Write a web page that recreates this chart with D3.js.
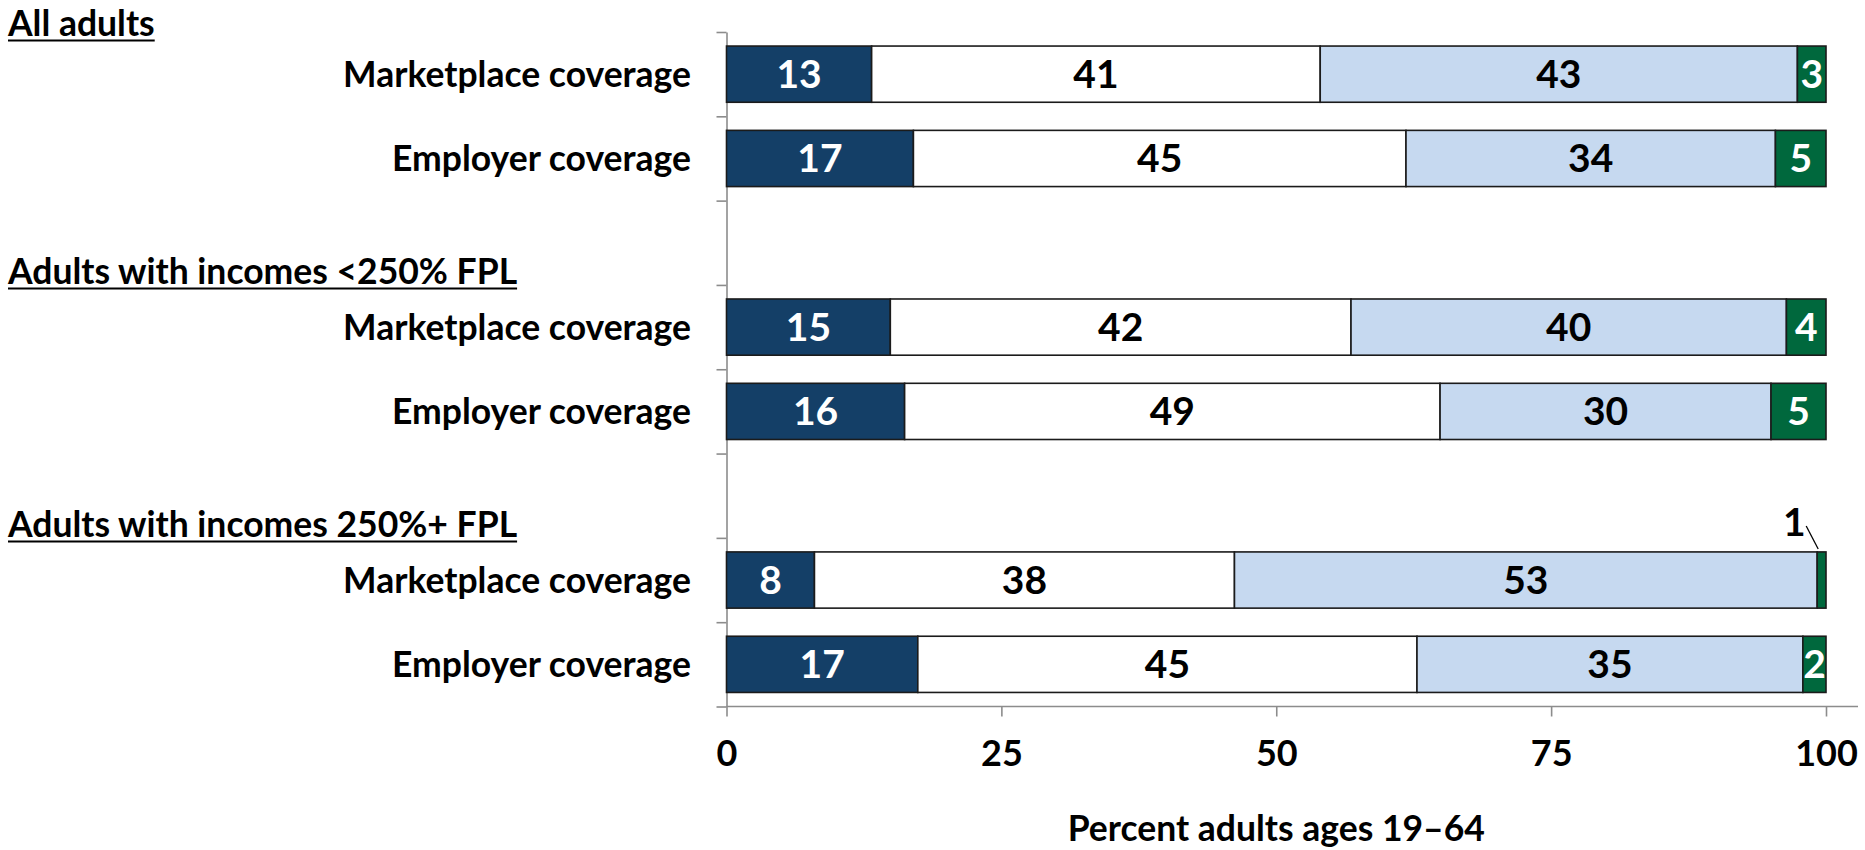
<!DOCTYPE html>
<html>
<head>
<meta charset="utf-8">
<script src="https://cdn.jsdelivr.net/npm/d3@7"></script>
<style>
  html, body { margin: 0; padding: 0; background: #ffffff; }
  svg { display: block; font-family: Lato, "Open Sans", sans-serif; font-weight: 700; }
</style>
</head>
<body>
<svg id="chart" width="1865" height="850"></svg>
<script>
// Population groups (each gets a heading) and the two coverage rows inside each group
const groups = ["All adults", "Adults with incomes <250% FPL", "Adults with incomes 250%+ FPL"];
const rowLabels = ["Marketplace coverage", "Employer coverage"];

// Stacked segment shares, percent, one entry per bar (top to bottom)
const darkBlueValues  = [13.2, 17.0, 14.9, 16.2, 8.0, 17.4];
const whiteValues     = [40.8, 44.8, 41.9, 48.7, 38.2, 45.4];
const lightBlueValues = [43.4, 33.6, 39.6, 30.1, 53.0, 35.1];
const greenValues     = [2.6, 4.6, 3.6, 5.0, 0.8, 2.1];

const xTicks = [0, 25, 50, 75, 100];
const xTitle = "Percent adults ages 19–64";

const series = [
  { key: "darkBlue",  values: darkBlueValues,  fill: "#143f67", text: "#ffffff" },
  { key: "white",     values: whiteValues,     fill: "#ffffff", text: "#000000" },
  { key: "lightBlue", values: lightBlueValues, fill: "#c6d9f0", text: "#000000" },
  { key: "green",     values: greenValues,     fill: "#00683d", text: "#ffffff" }
];

const svg = d3.select("#chart");
const labelSize = 35.5;

// Slots down the chart: two bars per group, with an empty slot between groups
const slots = [];
const bars = [];
groups.forEach((g, gi) => {
  rowLabels.forEach((r) => {
    const id = g + "|" + r;
    slots.push(id);
    bars.push({ id, group: g, label: r });
  });
  if (gi < groups.length - 1) slots.push("gap" + gi);
});

const x = d3.scaleLinear().domain([0, 100]).range([726.5, 1826]);
const y = d3.scaleBand().domain(slots).range([32, 706.5]).paddingInner(1 / 3).paddingOuter(1 / 6);
const slotEdge = d3.scaleLinear().domain([0, slots.length]).range([32, 706.5]);

// Stack the segments for every bar
const rows = bars.map((b, i) => {
  let acc = 0;
  const segs = series.map((s) => {
    const v = s.values[i];
    const seg = { key: s.key, value: v, x0: acc, x1: acc + v, fill: s.fill, text: s.text };
    acc += v;
    return seg;
  });
  return { ...b, segs };
});

// Category axis: ticks sit on slot boundaries
const yAxis = svg.append("g")
  .attr("transform", `translate(${x(0)},0)`)
  .call(d3.axisLeft(slotEdge).ticks(slots.length).tickSize(10).tickSizeOuter(0).tickFormat(""));
yAxis.select(".domain").attr("stroke", "#8c8c8c").attr("stroke-width", 1.6);
yAxis.selectAll(".tick line").attr("stroke", "#8c8c8c").attr("stroke-width", 1.6);

// Value axis
const xAxis = svg.append("g")
  .attr("transform", `translate(0,${slotEdge(slots.length)})`)
  .call(d3.axisBottom(x).tickValues(xTicks).tickSize(10).tickSizeOuter(0).tickPadding(24));
xAxis.select(".domain")
  .attr("d", `M${x(0)},0H1858`)
  .attr("stroke", "#8c8c8c").attr("stroke-width", 1.6);
xAxis.selectAll(".tick line").attr("stroke", "#8c8c8c").attr("stroke-width", 1.6);
xAxis.selectAll(".tick text")
  .attr("fill", "#000").attr("font-size", 36).attr("font-weight", 700)
  .attr("font-family", "Lato, sans-serif");

// Bars
const barG = svg.append("g").selectAll("g.bar").data(rows).join("g")
  .attr("class", "bar")
  .attr("transform", (d) => `translate(0,${y(d.id)})`);

barG.selectAll("rect").data((d) => d.segs).join("rect")
  .attr("x", (s) => x(s.x0))
  .attr("y", 0)
  .attr("width", (s) => x(s.x1) - x(s.x0))
  .attr("height", y.bandwidth())
  .attr("fill", (s) => s.fill)
  .attr("stroke", "#1b1b1b")
  .attr("stroke-width", 1.6);

// Value labels: inside the segment, or above it with a leader when too narrow
const fmt = d3.format(".0f");
const bw = y.bandwidth();
barG.each(function (d) {
  const g = d3.select(this);
  d.segs.forEach((s) => {
    const w = x(s.x1) - x(s.x0);
    if (w >= 15) {
      g.append("text")
        .attr("x", (x(s.x0) + x(s.x1)) / 2)
        .attr("y", bw / 2 + 14)
        .attr("text-anchor", "middle")
        .attr("font-size", 39)
        .attr("fill", s.text)
        .text(fmt(s.value));
    } else {
      const sx = x(s.x0);
      g.append("line")
        .attr("x1", sx - 11).attr("y1", -26)
        .attr("x2", sx + 1).attr("y2", -3)
        .attr("stroke", "#000").attr("stroke-width", 1.3);
      g.append("text")
        .attr("x", sx - 23)
        .attr("y", -16)
        .attr("text-anchor", "middle")
        .attr("font-size", 39)
        .attr("fill", "#000")
        .text(fmt(s.value));
    }
  });
});

// Row labels
svg.append("g").selectAll("text").data(rows).join("text")
  .attr("x", 691)
  .attr("y", (d) => y(d.id) + bw / 2 + labelSize * 0.36)
  .attr("text-anchor", "end")
  .attr("font-size", labelSize)
  .attr("fill", "#000")
  .text((d) => d.label);

// Group headings, underlined, sitting just above each group's first slot
// (the top one is kept clear of the page edge)
const headG = svg.append("g");
groups.forEach((g) => {
  const firstIdx = slots.indexOf(g + "|" + rowLabels[0]);
  const base = Math.max(slotEdge(firstIdx) - 1, 36);
  const t = headG.append("text")
    .attr("x", 8).attr("y", base)
    .attr("font-size", labelSize).attr("fill", "#000")
    .text(g);
  const len = t.node().getComputedTextLength();
  headG.append("line")
    .attr("x1", 8).attr("x2", 8 + len)
    .attr("y1", base + 4.5).attr("y2", base + 4.5)
    .attr("stroke", "#000").attr("stroke-width", 2);
});

// Axis title
svg.append("text")
  .attr("x", (x(0) + x(100)) / 2)
  .attr("y", 841)
  .attr("text-anchor", "middle")
  .attr("font-size", labelSize)
  .attr("fill", "#000")
  .text(xTitle);
</script>
</body>
</html>
